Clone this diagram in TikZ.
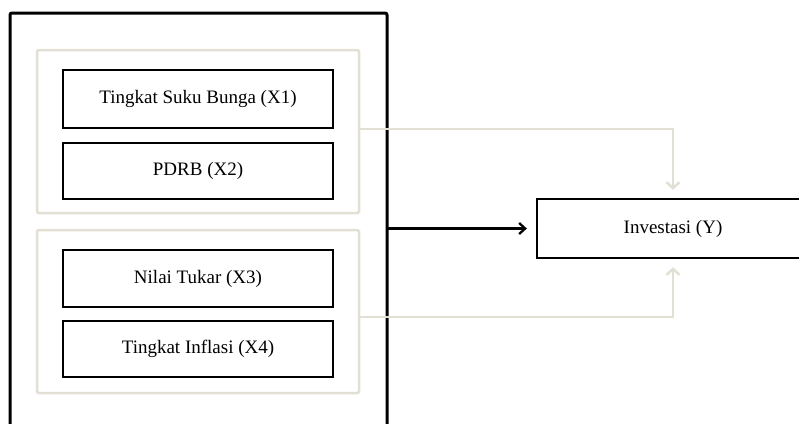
\documentclass[tikz,border=0pt]{standalone}
\usepackage{fontspec}
\setmainfont{Liberation Serif}
\usepackage{tikz}
\usetikzlibrary{arrows.meta,positioning}
\definecolor{pale}{RGB}{226,224,212}

\begin{document}
\begin{tikzpicture}[x=1pt, y=1pt, font=\fontsize{19}{23}\selectfont,
                    box/.style={draw, line width=2.3pt, minimum width=270pt, align=center},
                    group/.style={draw=pale, line width=2.5pt, rounded corners=1.5pt, minimum width=322pt, minimum height=163pt},
                    paleline/.style={draw=pale, line width=2.5pt, -{Straight Barb[length=6pt,width=13pt]}, shorten >=8pt},
                    blackline/.style={draw, line width=2.3pt, -{Straight Barb[length=6pt,width=11pt]}, shorten >=9pt}]
    \useasboundingbox (0,0) rectangle (799,-423);
    \clip (0,0) rectangle (799,-423);

    \draw[line width=3pt, rounded corners=2pt] (10,-440) |- (387,-13) -- (387,-440);

    \node[group] (g1) at (198,-131.5) {};
    \node[group] (g2) at (198,-311.5) {};

    \node[box, minimum height=58pt] (x1) at (198,-99) {Tingkat Suku Bunga (X1)};
    \node[box, minimum height=56pt] (x2) at (198,-171) {PDRB (X2)};
    \node[box, minimum height=57pt] (x3) at (198,-278.5) {Nilai Tukar (X3)};
    \node[box, minimum height=56pt] (x4) at (198,-349) {Tingkat Inflasi (X4)};

    \node[box, minimum width=272pt, minimum height=59pt] (inv) at (673,-228.5) {Investasi (Y)};

    \coordinate (frame) at (387,-228.5);
    \draw[blackline] (frame) -- (inv);
    \draw[paleline] ([yshift=2.5pt]g1.east) -| (inv.north);
    \draw[paleline] ([yshift=-5.5pt]g2.east) -| (inv.south);
\end{tikzpicture}
\end{document}
